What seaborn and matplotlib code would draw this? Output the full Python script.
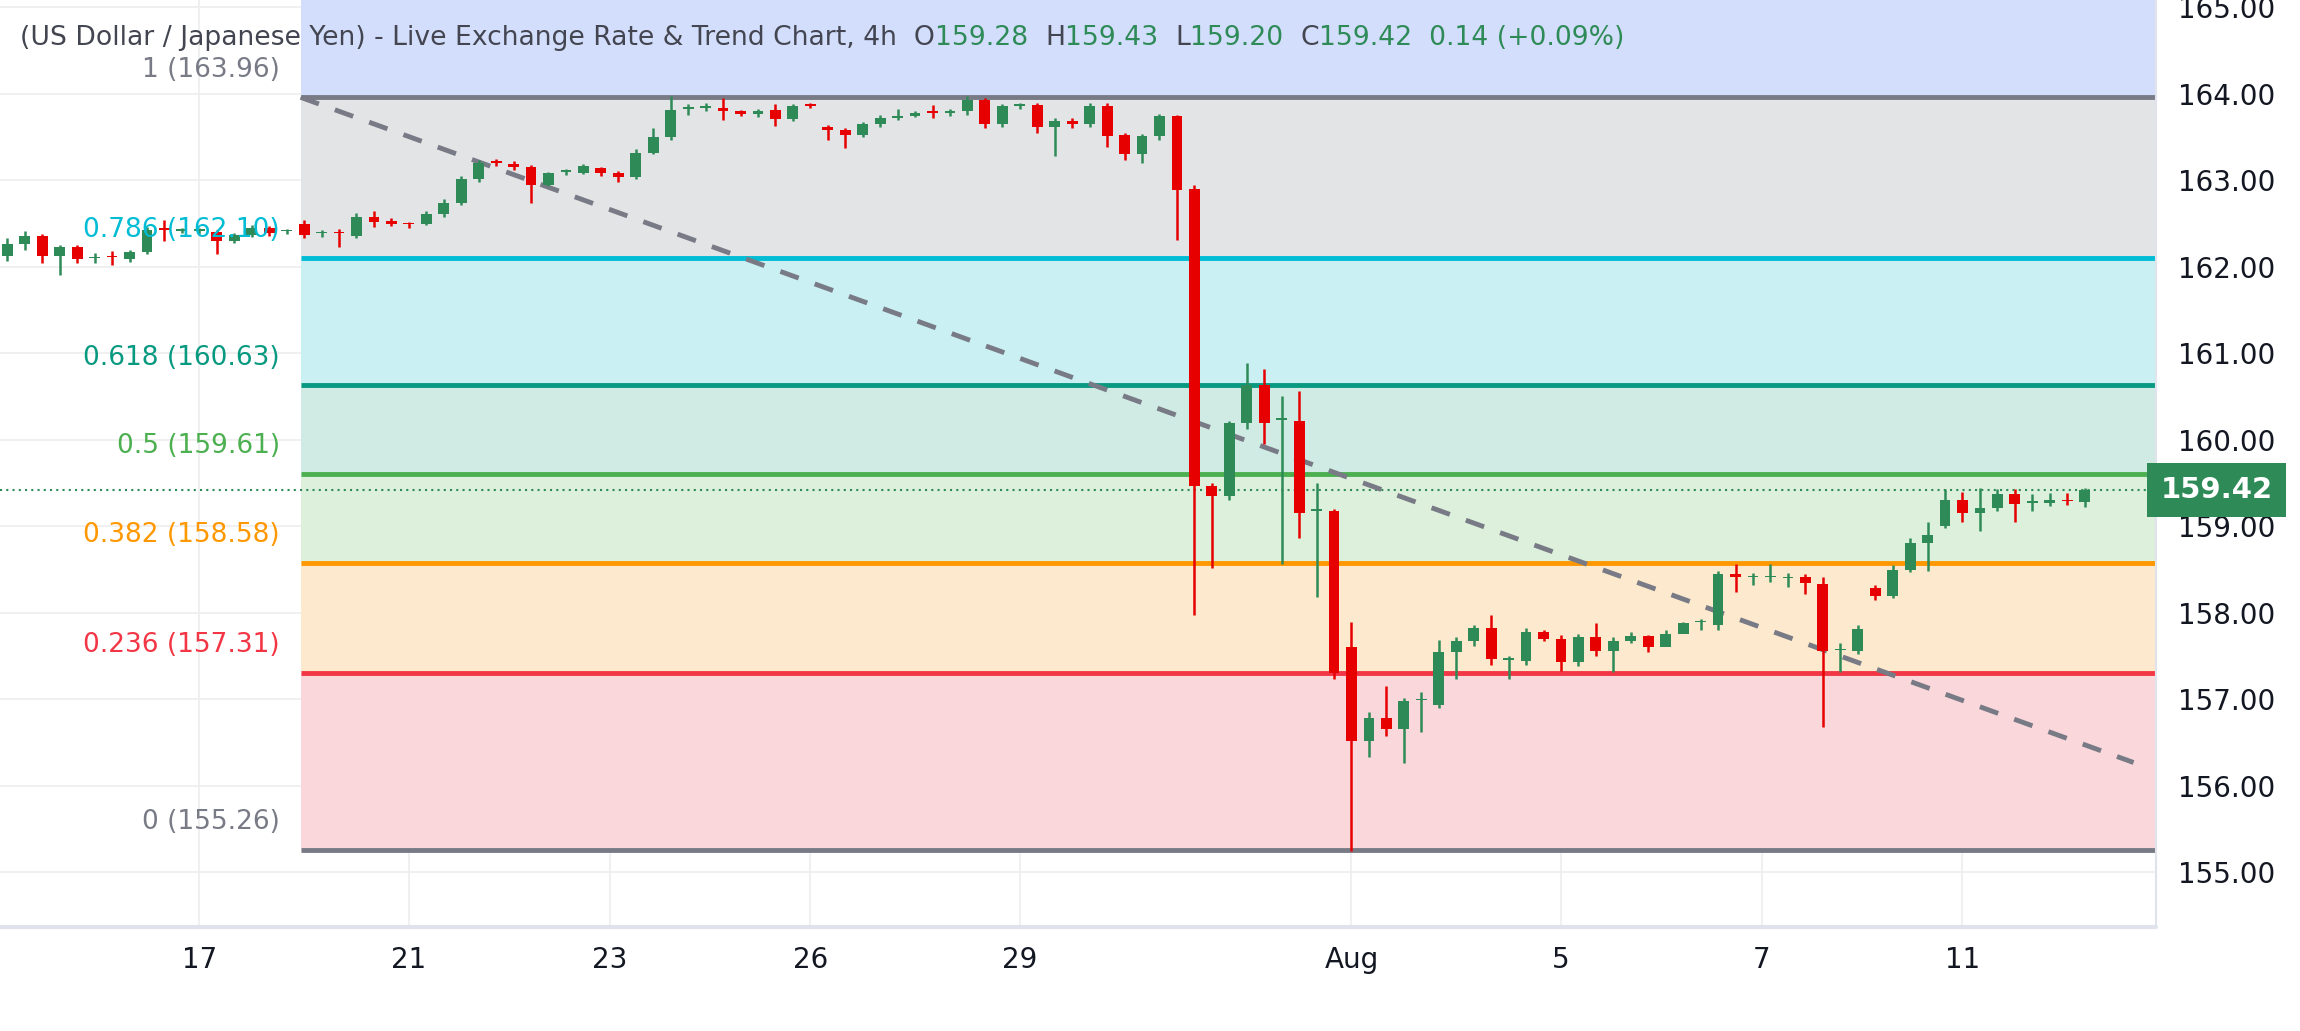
import matplotlib
matplotlib.use("Agg")
import matplotlib.pyplot as plt
import seaborn as sns
import numpy as np

opens = [162.13,162.27,162.36,162.13,162.23,162.10,162.12,162.09,162.17,162.44,
         162.42,162.42,162.40,162.30,162.37,162.45,162.41,162.50,162.39,162.40,
         162.36,162.58,162.53,162.50,162.50,162.61,162.74,163.02,163.21,163.19,
         163.16,162.95,163.10,163.09,163.14,163.09,163.04,163.32,163.50,163.83,
         163.84,163.84,163.80,163.77,163.81,163.71,163.87,163.62,163.58,163.52,
         163.65,163.72,163.74,163.79,163.78,163.80,163.93,163.65,163.86,163.87,
         163.62,163.69,163.65,163.86,163.52,163.30,163.51,163.74,162.90,159.47,
         159.35,160.19,160.63,160.23,160.22,159.18,159.18,157.60,156.52,156.78,
         156.66,156.99,156.94,157.55,157.67,157.82,157.46,157.44,157.78,157.70,
         157.43,157.72,157.56,157.67,157.73,157.61,157.75,157.89,157.86,158.45,
         158.41,158.41,158.40,158.41,158.33,157.57,157.56,158.29,158.20,158.50,
         158.81,159.00,159.31,159.16,159.21,159.37,159.27,159.27,159.30,159.28]
closes = [162.27,162.36,162.13,162.23,162.09,162.11,162.11,162.17,162.43,162.43,
          162.42,162.42,162.30,162.37,162.45,162.39,162.42,162.37,162.39,162.39,
          162.58,162.52,162.50,162.49,162.61,162.74,163.02,163.20,163.20,163.15,
          162.95,163.08,163.11,163.17,163.09,163.04,163.32,163.50,163.81,163.84,
          163.85,163.80,163.77,163.80,163.71,163.86,163.86,163.58,163.52,163.65,
          163.72,163.74,163.78,163.78,163.80,163.93,163.65,163.86,163.87,163.62,
          163.69,163.65,163.86,163.51,163.30,163.51,163.74,162.89,159.47,159.35,
          160.19,160.63,160.20,160.23,159.16,159.18,157.31,156.52,156.78,156.66,
          156.98,156.99,157.55,157.67,157.82,157.47,157.46,157.78,157.70,157.43,
          157.72,157.56,157.67,157.73,157.61,157.75,157.88,157.89,158.45,158.41,
          158.41,158.41,158.41,158.34,157.56,157.57,157.81,158.20,158.50,158.81,
          158.90,159.31,159.16,159.21,159.37,159.26,159.28,159.30,159.29,159.42]
highs = [162.33,162.41,162.38,162.25,162.25,162.16,162.18,162.20,162.46,162.54,
         162.45,162.45,162.43,162.39,162.48,162.47,162.44,162.54,162.43,162.44,
         162.62,162.65,162.56,162.52,162.64,162.78,163.05,163.23,163.25,163.22,
         163.18,163.10,163.13,163.19,163.16,163.11,163.36,163.60,163.98,163.88,
         163.89,163.95,163.81,163.83,163.88,163.88,163.89,163.64,163.60,163.68,
         163.75,163.82,163.80,163.87,163.83,163.97,163.95,163.88,163.90,163.90,
         163.72,163.72,163.90,163.90,163.55,163.54,163.77,163.76,162.95,159.50,
         160.22,160.89,160.82,160.51,160.56,159.50,159.20,157.90,156.85,157.16,
         157.02,157.09,157.69,157.72,157.86,157.97,157.50,157.82,157.80,157.74,
         157.75,157.88,157.72,157.78,157.74,157.80,157.90,157.93,158.48,158.56,
         158.46,158.56,158.46,158.45,158.42,157.65,157.86,158.32,158.55,158.87,
         159.05,159.43,159.40,159.44,159.43,159.43,159.37,159.38,159.39,159.44]
lows = [162.07,162.20,162.05,161.91,162.05,162.05,162.02,162.06,162.15,162.30,
        162.39,162.38,162.15,162.28,162.35,162.36,162.38,162.33,162.34,162.23,
        162.33,162.46,162.47,162.45,162.48,162.58,162.72,162.98,163.17,163.12,
        162.74,162.93,163.06,163.07,163.05,162.98,163.02,163.30,163.47,163.75,
        163.80,163.70,163.74,163.73,163.63,163.69,163.84,163.47,163.37,163.50,
        163.62,163.70,163.73,163.72,163.74,163.76,163.60,163.62,163.82,163.55,
        163.28,163.60,163.62,163.38,163.24,163.20,163.47,162.31,157.97,158.52,
        159.30,160.12,159.95,158.56,158.87,158.18,157.24,155.25,156.33,156.58,
        156.26,156.62,156.90,157.24,157.62,157.40,157.24,157.40,157.67,157.33,
        157.38,157.50,157.32,157.65,157.55,157.70,157.84,157.80,157.80,158.24,
        158.32,158.36,158.30,158.22,156.68,157.32,157.52,158.15,158.17,158.47,
        158.48,158.98,159.05,158.95,159.18,159.05,159.18,159.23,159.25,159.22]

fib_levels = [163.96, 162.10, 160.63, 159.61, 158.58, 157.31, 155.26]
fib_ratios = ["1", "0.786", "0.618", "0.5", "0.382", "0.236", "0"]
fib_line_colors = ["#787b86", "#00bcd4", "#089981", "#4caf50", "#ff9800", "#f23645", "#787b86"]
fib_fill_colors = ["#e3e4e6", "#caf0f3", "#d0ebe3", "#ddf0dc", "#fde9cd", "#fad7da"]
tick_pos = [11, 23, 34.5, 46, 58, 77, 89, 100.5, 112]
tick_labels = ["17", "21", "23", "26", "29", "Aug", "5", "7", "11"]
last_price = 159.42
title_parts = [("(US Dollar / Japanese Yen) - Live Exchange Rate & Trend Chart, 4h  O", "#434651"),
               ("159.28  ", "#2e8b57"), ("H", "#434651"), ("159.43  ", "#2e8b57"),
               ("L", "#434651"), ("159.20  ", "#2e8b57"), ("C", "#434651"),
               ("159.42  0.14 (+0.09%)", "#2e8b57")]

sns.set_theme(style="white")
plt.rcParams['font.family'] = ['DejaVu Sans']

fig = plt.figure(figsize=(23, 10.31), dpi=100)
ax = fig.add_axes([0.0, 0.101, 0.9375, 0.899])
XMIN, XMAX = -0.42, 123.1
YMIN, YMAX = 154.37, 165.085
ax.set_xlim(XMIN, XMAX)
ax.set_ylim(YMIN, YMAX)

for t in tick_pos:
    ax.axvline(t, color="#eeeeee", lw=1.2, zorder=0)
for p in range(155, 166):
    ax.axhline(p, color="#eeeeee", lw=1.2, zorder=0)

fx0 = 16.8
fx_frac = (fx0 - XMIN) / (XMAX - XMIN)
ax.axhspan(fib_levels[0], YMAX, xmin=fx_frac, xmax=1, color="#d3defc", zorder=1, lw=0)
for i in range(6):
    ax.axhspan(fib_levels[i + 1], fib_levels[i], xmin=fx_frac, xmax=1,
               color=fib_fill_colors[i], zorder=1, lw=0)
for lvl, r, c in zip(fib_levels, fib_ratios, fib_line_colors):
    ax.plot([fx0, XMAX], [lvl, lvl], color=c, lw=3.5, zorder=2, solid_capstyle="butt")
    ax.text(fx0 - 1.2, lvl + (0.18 if r == "0.786" else 0.17), f"{r} ({lvl:.2f})", color=c,
            ha="right", va="bottom", fontsize=19, zorder=6)

ax.plot([fx0, 121.8], [163.96, 156.27], color="#787b86", lw=3.5, ls=(0, (4, 3.5)), zorder=3)
ax.axhline(last_price, color="#2e8b57", lw=1.5, ls=(0, (1, 2)), zorder=2)

idx = np.arange(len(closes))
o = np.array(opens); c = np.array(closes)
up = c >= o
cols = np.where(up, "#2e8b57", "#e60000")
ax.vlines(idx, lows, highs, colors=cols, lw=1.8, zorder=4)
bottoms = np.minimum(o, c)
heights = np.maximum(np.abs(c - o), 0.018)
ax.bar(idx, heights, bottom=bottoms, width=0.62, color=cols, zorder=5, lw=0)

for s in ax.spines.values():
    s.set_visible(False)
ax.yaxis.tick_right()
ax.set_yticks(range(155, 166))
ax.set_yticklabels([f"{p:.2f}" for p in range(155, 166)], fontsize=20, color="#131722")
ax.set_xticks(tick_pos)
ax.set_xticklabels(tick_labels, fontsize=20, color="#131722")
ax.tick_params(axis="both", length=0, pad=14)
ax.tick_params(axis="y", pad=16)
ax.axhline(YMIN, color="#e0e3eb", lw=3, clip_on=False)
ax.axvline(XMAX, color="#e0e3eb", lw=1.5, clip_on=False)

ax.text(XMAX + 0.25, last_price, f"{last_price:.2f}", color="white", fontsize=21, fontweight="bold",
        va="center", ha="left", transform=ax.transData, clip_on=False, zorder=10,
        bbox=dict(boxstyle="square,pad=0.45", fc="#2e8b57", ec="none"))

fig.canvas.draw()
r = fig.canvas.get_renderer()
x = 20
for txt, col in title_parts:
    t = fig.text(x / 2300, 1 - 38 / 1031, txt, color=col, fontsize=19.2, va="center", ha="left")
    x += t.get_window_extent(renderer=r).width

fig.savefig("out.png", dpi=100)
